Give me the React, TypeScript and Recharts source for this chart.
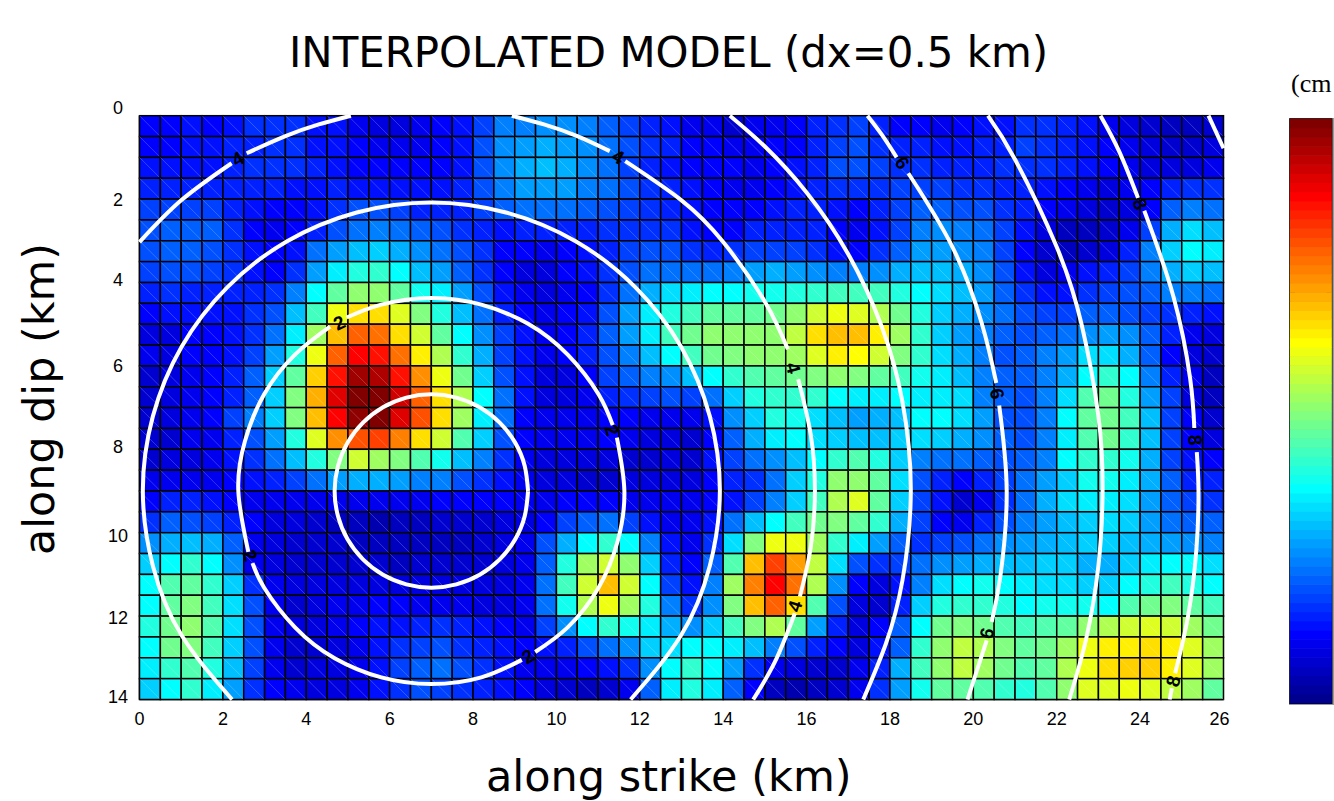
import React from "react";
import { ScatterChart, Scatter, XAxis, YAxis, ReferenceArea, ReferenceLine } from "recharts";

// colormap level (0-63, jet) of each subfault, one list per row of dip
const slipRows: number[][] = [
  [7,7,8,7,8,10,10,10,8,8,6,5,5, 6,7,8,11,15,15,16,16,15,13,11,9,8, 6,6,4,6,6,7,9,10,11,9,7,7,6, 7,8,8,10,10,9,8,6,5,4,3,3,4],
  [7,7,8,8,9,9,10,10,8,8,7,6,6, 6,7,8,12,16,17,18,17,16,14,12,10,9, 7,7,6,6,7,7,9,11,12,10,9,9,8, 8,9,9,11,10,9,8,7,6,5,4,4,5],
  [8,8,8,8,9,10,10,10,9,8,7,7,7, 7,7,8,12,16,18,19,18,16,14,11,9,8, 7,7,7,6,7,8,9,12,12,11,10,10,9, 9,9,10,10,10,9,8,7,6,5,5,5,6],
  [9,9,9,9,9,9,9,8,8,9,8,8,8, 8,8,9,12,15,17,17,17,15,14,12,10,9, 8,7,6,6,7,8,9,10,10,10,11,11,11, 10,10,9,9,8,7,6,5,6,7,9,10,10],
  [11,11,11,11,9,8,7,7,8,10,12,12,11, 9,9,9,11,13,14,14,14,13,12,11,10,9, 8,7,7,7,8,9,9,8,7,9,11,13,13, 12,12,10,9,7,6,5,4,5,7,13,15,14],
  [12,13,13,13,10,7,6,7,9,12,14,15,14, 13,12,10,9,8,9,9,9,9,10,10,10,10, 8,7,7,9,9,9,9,7,6,8,11,15,16, 15,14,11,8,5,3,3,4,6,11,18,21,19],
  [12,13,13,12,10,8,7,8,14,17,19,20,18, 16,14,12,10,7,7,6,7,8,9,11,12,12, 10,9,10,11,11,11,10,8,7,10,13,17,17, 16,15,11,7,4,3,4,5,9,15,20,23,22],
  [11,12,12,11,10,8,7,10,17,22,25,26,23, 19,17,13,10,7,5,5,7,8,10,12,14,14, 14,14,15,17,18,17,16,15,15,16,18,19,19, 18,16,12,8,5,6,8,9,11,15,18,20,19],
  [9,10,9,9,9,9,10,15,23,29,32,32,29, 24,22,17,12,8,6,5,6,7,10,14,18,21, 22,23,23,24,24,25,26,27,27,27,25,23,21, 19,17,13,10,8,8,10,11,12,13,15,15,14],
  [7,8,8,8,8,10,12,19,27,38,41,41,37, 31,25,19,14,9,7,6,7,8,12,17,22,25, 27,29,29,29,30,32,36,38,37,34,30,25,20, 18,16,14,12,11,11,13,13,12,11,10,9,8],
  [5,5,7,7,8,10,14,22,33,43,49,48,41, 36,29,23,16,11,8,6,7,9,13,17,22,27, 30,32,32,32,32,35,41,43,43,40,33,26,20, 17,15,13,12,13,14,16,17,16,13,9,6,5],
  [6,5,7,7,8,11,17,25,38,49,55,54,48, 40,34,26,18,11,8,6,7,9,12,15,19,23, 27,30,31,32,32,33,37,40,39,36,31,26,21, 18,15,12,13,15,17,21,21,18,13,7,5,4],
  [4,5,6,7,9,13,20,29,42,54,61,60,54, 46,38,30,20,12,8,5,5,7,11,13,15,16, 19,23,26,28,29,30,31,32,31,29,27,24,22, 19,15,13,13,15,18,23,26,23,15,9,6,3],
  [4,5,6,7,9,13,20,31,44,57,63,63,58, 49,41,34,23,14,8,5,5,6,9,10,11,12, 11,14,20,25,26,26,26,23,22,22,23,22,22, 21,15,13,12,15,21,28,30,25,17,11,5,3],
  [4,5,6,7,11,15,20,31,43,55,62,63,57, 50,41,33,22,14,7,6,6,6,7,7,6,6, 6,8,16,20,25,24,21,19,17,18,19,23,23, 21,17,12,12,15,23,29,30,27,19,11,7,4],
  [4,4,6,6,9,12,17,25,37,46,50,51,47, 41,36,28,20,12,7,6,6,6,7,6,5,5, 4,7,13,18,22,23,21,20,19,19,20,21,20, 18,16,13,12,15,22,28,30,26,19,11,7,5],
  [4,5,5,6,8,10,14,19,25,31,36,33,31, 28,24,19,15,10,6,5,5,5,5,4,4,5, 4,8,11,14,16,19,23,26,28,25,20,15,14, 14,13,12,13,15,23,26,26,24,18,11,8,7],
  [6,6,6,6,7,8,9,11,14,17,18,18,17, 15,15,12,10,8,6,5,5,4,4,5,5,5, 5,7,9,10,14,20,25,32,32,29,21,12,9, 7,9,11,14,17,20,24,24,22,18,13,9,9],
  [7,9,9,8,7,6,6,6,6,6,6,6,6, 6,7,7,7,7,6,6,7,7,7,6,6,6, 6,7,8,11,15,20,27,34,37,29,20,11,8, 4,6,10,14,18,21,22,22,21,17,13,11,10],
  [10,13,12,11,9,7,5,5,4,3,3,2,3, 3,4,4,4,5,5,7,11,13,14,11,8,6, 6,8,14,19,23,27,30,31,29,26,18,11,7, 6,9,12,15,17,19,20,21,20,17,14,13,13],
  [16,18,19,18,13,6,5,4,4,4,3,3,3, 3,3,3,4,5,6,12,18,23,26,23,15,8, 6,10,21,31,38,38,33,26,22,17,13,10,11, 12,14,16,17,18,19,20,20,19,18,17,16,15],
  [20,23,26,23,16,6,5,4,4,4,4,4,3, 4,4,4,4,5,6,13,25,33,36,32,20,9, 7,13,28,43,51,45,35,21,12,10,11,14,16, 17,18,19,19,20,20,18,18,20,22,23,23,21],
  [23,28,29,26,20,10,6,5,5,5,5,5,5, 5,5,5,5,5,6,14,27,36,43,36,23,11, 8,15,33,47,55,48,34,16,7,5,8,15,21, 23,24,23,22,21,21,20,20,23,25,27,25,23],
  [23,29,31,27,21,12,6,4,5,6,6,7,7, 6,6,6,5,5,6,14,24,34,38,33,25,15, 10,16,31,43,49,41,28,12,5,4,9,20,25, 26,26,25,23,24,24,24,23,28,30,31,29,27],
  [25,30,32,28,21,12,6,5,5,6,7,8,8, 9,10,9,8,7,6,11,16,23,26,24,22,18, 16,20,27,31,34,29,17,9,5,7,13,23,30, 31,30,28,27,28,29,32,34,36,37,36,33,30],
  [23,30,31,27,20,12,6,4,4,5,6,8,10, 11,12,10,9,8,7,8,9,12,14,16,20,21, 23,23,22,19,15,12,9,7,5,8,13,26,32, 35,34,31,29,30,33,38,40,40,41,40,37,33],
  [22,26,28,25,19,11,6,4,5,5,6,8,11, 13,14,12,10,8,6,6,6,7,8,10,16,23, 26,23,17,10,6,5,4,4,6,9,18,27,32, 35,33,30,28,29,34,38,41,42,42,40,37,33],
  [20,23,26,22,17,10,7,6,5,5,6,8,10, 12,11,10,9,8,7,5,4,3,4,6,13,22, 25,22,13,7,3,2,3,4,6,10,17,24,29, 29,28,26,25,28,32,37,37,38,37,35,33,29],
];

const xTicks = [0, 2, 4, 6, 8, 10, 12, 14, 16, 18, 20, 22, 24, 26];
const yTicks = [0, 2, 4, 6, 8, 10, 12, 14];
const yTickNudge = [-8, 1, -3, 0, -2, 3, 2, -3];
const colorbarTicks = [6.8, 16.35, 25.9, 35.5, 45, 54.6];

// rupture front contours, broken where a label sits
const contourSegments: [number, number][][] = [
  [[9.32,9],[9.24,9.6],[9.01,10.16],[8.64,10.64],[8.16,11.01],[7.6,11.24],[7,11.32],[6.4,11.24],[5.84,11.01],[5.36,10.64],[4.99,10.16],[4.76,9.6],[4.68,9],[4.76,8.4],[4.99,7.84],[5.36,7.36],[5.84,6.99],[6.4,6.76],[7,6.68],[7.6,6.76],[8.16,6.99],[8.64,7.36],[9.01,7.84],[9.24,8.4],[9.32,9]],
  [[11.45,7.72],[11.63,9],[11.47,10.2],[11.01,11.32],[10.27,12.27],[9.49,12.86]],
  [[9.17,13.05],[8.2,13.47],[7,13.63],[5.8,13.47],[4.68,13.01],[3.73,12.27],[2.99,11.32],[2.71,10.73]],
  [[2.61,10.46],[2.37,9],[2.53,7.8],[2.99,6.68],[3.73,5.73],[4.57,5.06]],
  [[4.97,4.84],[5.8,4.53],[7,4.37],[8.2,4.53],[9.32,4.99],[10.27,5.73],[11.01,6.68],[11.35,7.42]],
  [[11.78,14],[12.99,12.46],[13.68,10.79],[13.92,9],[13.68,7.21],[12.99,5.54],[11.89,4.11],[10.46,3.01],[8.79,2.32],[7,2.08],[5.21,2.32],[3.54,3.01],[2.11,4.11],[1.01,5.54],[0.32,7.21],[0.08,9],[0.32,10.79],[1.01,12.46],[2.22,14]],
  [[0,3.03],[1,2.03],[2.21,1.14]],
  [[2.57,0.9],[3.5,0.49],[4.3,0.21],[5.07,0]],
  [[8.93,0],[9.7,0.21],[10.5,0.49],[11.28,0.85]],
  [[11.65,1.09],[13,2.03],[14,3.03],[15,4.46],[15.55,5.6]],
  [[15.8,6.32],[16.1,7.65],[16.2,9],[16.1,10.35],[15.84,11.53]],
  [[15.72,11.93],[15.24,13.1],[14.72,14]],
  [[14.16,0],[15,0.74],[16,1.84],[17,3.32],[17.8,5.05],[18.3,6.86],[18.5,9],[18.3,11.14],[17.9,12.67],[17.36,14]],
  [[17.46,0],[17.8,0.45],[18.16,1.0]],
  [[18.44,1.38],[19.5,3.15],[20.2,4.97],[20.55,6.41]],
  [[20.62,6.95],[20.8,9],[20.65,11.03],[20.44,12.14]],
  [[20.32,12.58],[19.86,14]],
  [[20.35,0],[21,1.05],[22,3.15],[22.6,5.02],[23,7.21],[23.1,9],[23,10.79],[22.7,12.57],[22.3,14]],
  [[23.05,0],[23.5,0.86],[23.95,1.97]],
  [[24.1,2.28],[24.8,4.34],[25.2,6.3],[25.3,7.49]],
  [[25.36,8.07],[25.4,9],[25.35,10.4],[25.15,12],[24.84,13.37]],
  [[24.76,13.73],[24.71,14]],
  [[25.64,0],[26,0.78]],
];

const contourLabels = [
  { x: 2.36, y: 1.04, text: "4", angle: -30 },
  { x: 11.48, y: 0.99, text: "4", angle: 29 },
  { x: 18.29, y: 1.13, text: "6", angle: 55 },
  { x: 24.0, y: 2.12, text: "8", angle: 68 },
  { x: 4.79, y: 4.97, text: "2", angle: -25 },
  { x: 11.33, y: 7.54, text: "2", angle: 71 },
  { x: 15.68, y: 6.05, text: "4", angle: 75 },
  { x: 20.57, y: 6.67, text: "6", angle: 80 },
  { x: 25.32, y: 7.78, text: "8", angle: 86 },
  { x: 2.65, y: 10.54, text: "2", angle: 70 },
  { x: 9.32, y: 12.97, text: "2", angle: -30 },
  { x: 15.72, y: 11.76, text: "4", angle: -72 },
  { x: 20.33, y: 12.41, text: "6", angle: -76 },
  { x: 24.8, y: 13.56, text: "8", angle: -75 },
];

const colorLevels = Array.from({ length: 64 }, (_, i) => i);

const CELL = 20.85;

// matlab jet(64)
const jet = (i: number) => {
  const r = i <= 23 ? 0 : i <= 39 ? (i - 23) / 16 : i <= 55 ? 1 : 1 - (i - 55) / 16;
  const g = i <= 7 ? 0 : i <= 23 ? (i - 7) / 16 : i <= 39 ? 1 : i <= 55 ? 1 - (i - 39) / 16 : 0;
  const b = i <= 7 ? (i + 9) / 16 : i <= 23 ? 1 : i <= 39 ? 1 - (i - 23) / 16 : 0;
  return `rgb(${Math.round(r * 255)},${Math.round(g * 255)},${Math.round(b * 255)})`;
};

const cells = slipRows.flatMap((row, r) =>
  row.map((level, c) => ({ x: (c + 0.5) * 0.5, y: (r + 0.5) * 0.5, level }))
);

const HeatCell = ({ cx, cy, payload }: any) => {
  const x = cx - CELL / 2;
  const y = cy - CELL / 2;
  return (
    <g>
      <rect x={x} y={y} width={CELL} height={CELL} fill={jet(payload.level)} stroke="#000" strokeWidth={1.5} />
      <line x1={x} y1={y} x2={x + CELL} y2={y + CELL} stroke="#fff" strokeOpacity={0.3} strokeWidth={0.7} />
    </g>
  );
};

const ContourLabel = ({ cx, cy, payload }: any) => (
  <text
    x={cx}
    y={cy}
    transform={`rotate(${payload.angle} ${cx} ${cy})`}
    textAnchor="middle"
    dominantBaseline="central"
    fontFamily="Liberation Sans"
    fontWeight="bold"
    fontSize={19}
    fill="#000"
  >
    {payload.text}
  </text>
);

const ColorCell = ({ cx, cy, payload }: any) => (
  <rect x={cx - 21} y={cy - 4.8} width={42} height={9.6} fill={jet(payload.level)} />
);

const NoDot = () => <g />;

const XTick = ({ x, y, payload }: any) => (
  <text x={payload.value === 26 ? x - 4 : x} y={y + 17} textAnchor="middle" fontFamily="Liberation Sans" fontSize={18} fill="#000">
    {payload.value}
  </text>
);

const YTick = ({ y, payload, index }: any) => (
  <text x={118} y={y + 6 + yTickNudge[index]} textAnchor="middle" fontFamily="Liberation Sans" fontSize={18} fill="#000">
    {payload.value}
  </text>
);

const App = () => {
  return (
    <div style={{ position: "absolute", left: 0, top: 0, width: 1334, height: 801, overflow: "hidden", background: "#fff" }}>
      <ScatterChart width={1334} height={801} margin={{ top: 115.7, right: 110.5, bottom: 0, left: 0 }}>
        <XAxis
          type="number"
          dataKey="x"
          domain={[0, 26]}
          ticks={xTicks}
          tick={XTick}
          tickLine={false}
          axisLine={{ stroke: "#000", strokeWidth: 1.5 }}
          height={101.5}
          interval={0}
        />
        <YAxis
          type="number"
          dataKey="y"
          domain={[0, 14]}
          ticks={yTicks}
          tick={YTick}
          tickLine={false}
          axisLine={{ stroke: "#000", strokeWidth: 1.5 }}
          width={139.5}
          reversed
          interval={0}
        />
        <Scatter data={cells} shape={HeatCell} isAnimationActive={false} />
        {contourSegments.map((seg, i) => (
          <Scatter
            key={i}
            data={seg.map(([x, y]) => ({ x, y }))}
            line={{ stroke: "#fff", strokeWidth: 4 }}
            lineJointType="natural"
            shape={NoDot}
            isAnimationActive={false}
          />
        ))}
        <Scatter data={contourLabels} shape={ContourLabel} isAnimationActive={false} />
        <text x={289} y={67} fontFamily="DejaVu Sans" fontSize={41.9} fill="#000">INTERPOLATED MODEL (dx=0.5 km)</text>
        <text x={486} y={791} fontFamily="DejaVu Sans" fontSize={43} fill="#000">along strike (km)</text>
        <text x={54} y={555} transform="rotate(-90 54 555)" fontFamily="DejaVu Sans" fontSize={42.8} fill="#000">along dip (km)</text>
        <text x={1291} y={92} fontFamily="Liberation Serif" fontSize={26} fill="#000">(cm</text>
      </ScatterChart>
      <div style={{ position: "absolute", left: 1289, top: 118, width: 45, height: 587, background: "#9a9a9a" }} />
      <div style={{ position: "absolute", left: 1280, top: 110 }}>
        <ScatterChart width={54} height={600} margin={{ top: 9, right: 2.3, bottom: 6.7, left: 10 }}>
          <XAxis type="number" dataKey="x" domain={[0, 1]} hide />
          <YAxis type="number" dataKey="y" domain={[0, 64]} hide />
          <Scatter
            data={colorLevels.map((level) => ({ x: 0.5, y: level + 0.5, level }))}
            shape={ColorCell}
            isAnimationActive={false}
          />
          <ReferenceArea x1={0} x2={1} y1={0} y2={64} fill="none" stroke="#000" strokeWidth={1.5} />
          {colorbarTicks.map((t) => (
            <ReferenceLine key={`l${t}`} segment={[{ x: 0, y: t }, { x: 0.12, y: t }]} stroke="#000" strokeWidth={1} />
          ))}
          {colorbarTicks.map((t) => (
            <ReferenceLine key={`r${t}`} segment={[{ x: 0.88, y: t }, { x: 1, y: t }]} stroke="#000" strokeWidth={1} />
          ))}
        </ScatterChart>
      </div>
    </div>
  );
};

export default App;
